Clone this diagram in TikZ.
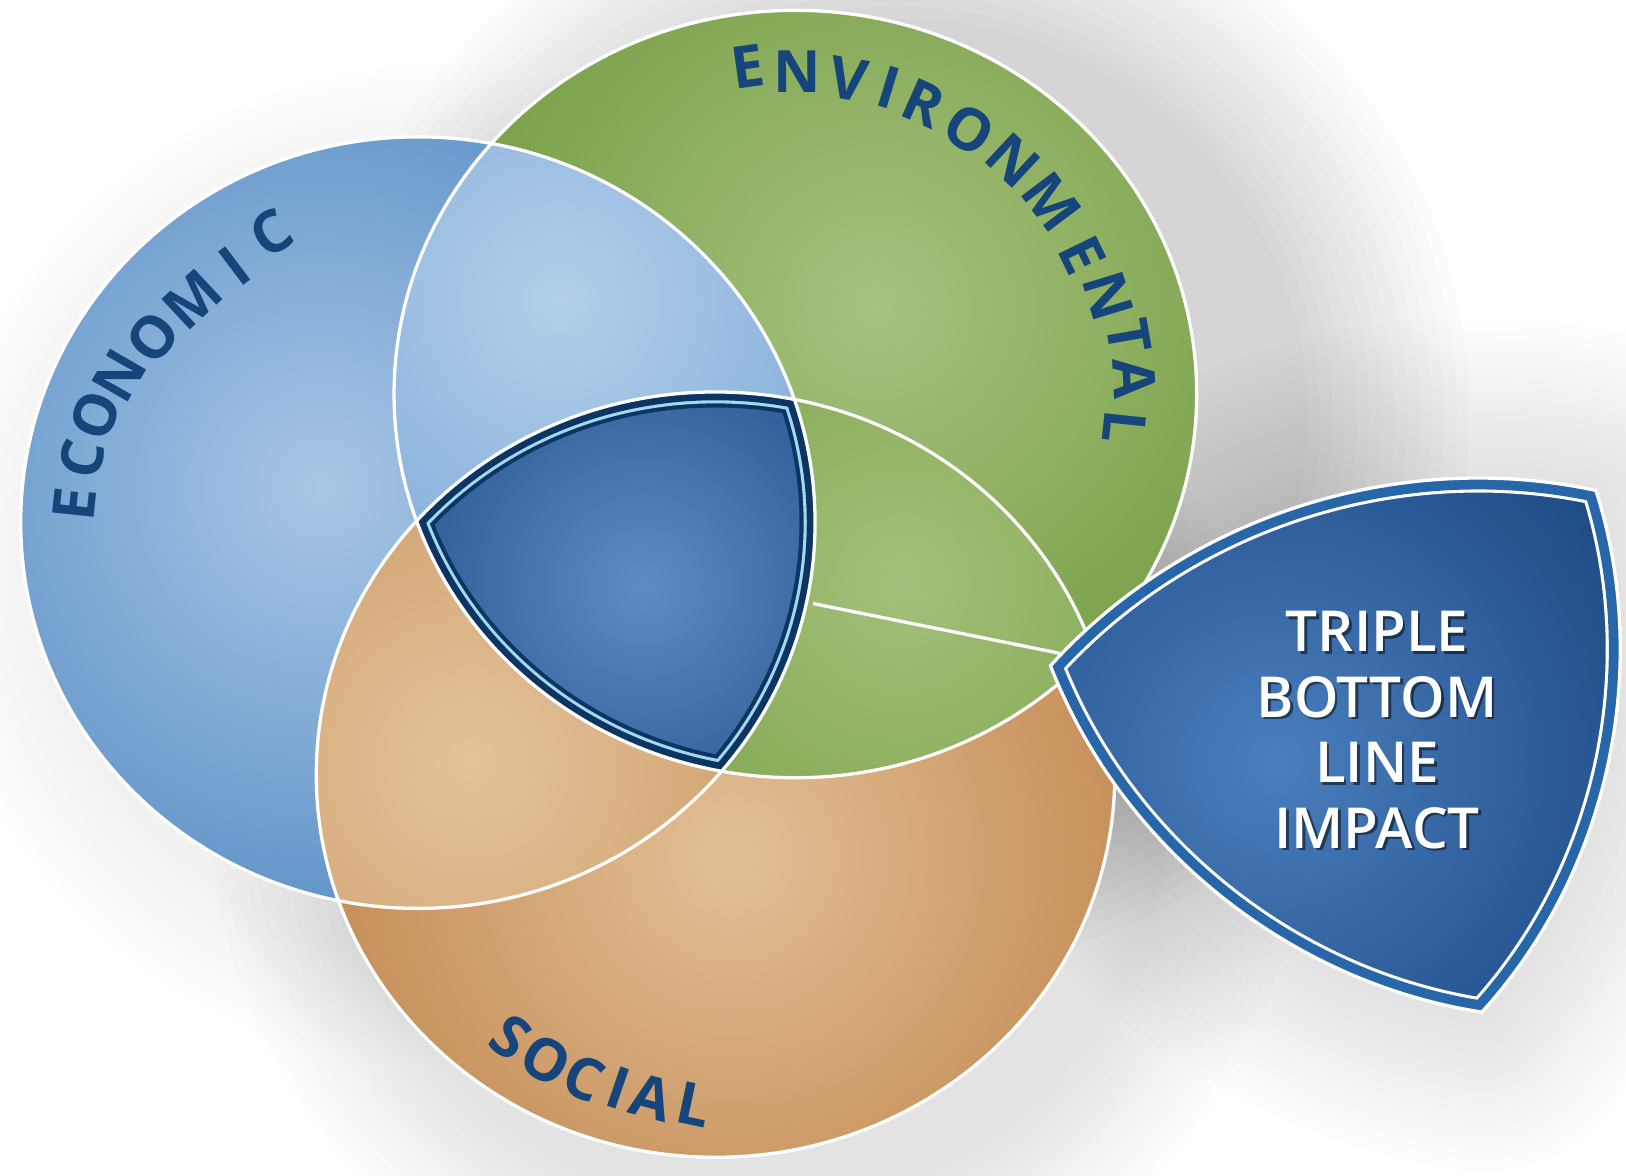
\documentclass[tikz,border=0pt]{standalone}
\usepackage{fontspec}
\newfontfamily\labfont{Open Sans}
\IfFontExistsTF{Open Sans Semibold}
  {\newfontfamily\tblfont{Open Sans Semibold}}
  {\newfontfamily\tblfont{Open Sans}}
\definecolor{ecoBase}{HTML}{538AC3}
\definecolor{ecoLight}{HTML}{A8C6E5}
\definecolor{abBase}{HTML}{72A1D3}
\definecolor{abLight}{HTML}{B3CFEA}
\definecolor{envBase}{HTML}{6A9537}
\definecolor{envLight}{HTML}{A6C27E}
\definecolor{bcBase}{HTML}{76A044}
\definecolor{bcLight}{HTML}{A4C07A}
\definecolor{socBase}{HTML}{BB7C42}
\definecolor{socLight}{HTML}{E2C096}
\definecolor{caBase}{HTML}{C99660}
\definecolor{caLight}{HTML}{E4C39B}
\definecolor{ctrBase}{HTML}{1A4984}
\definecolor{ctrLight}{HTML}{5E8DC5}
\definecolor{ctrNavy}{HTML}{0D3563}
\definecolor{ctrCyan}{HTML}{A6D6EE}
\definecolor{tblBase}{HTML}{18457F}
\definecolor{tblLight}{HTML}{4A7EBD}
\definecolor{tblBand}{HTML}{2767A9}
\definecolor{labCol}{HTML}{16457C}
\tikzset{
  lab/.style={font=\labfont\bfseries\fontsize{16}{16}\selectfont, text=labCol, inner sep=0pt},
  tbltext/.style={font=\tblfont\fontsize{15.5}{18}\selectfont, align=center, inner sep=0pt},
  rim/.style={white, line width=0.9pt},
  edgearc/.style={bend left=30, looseness=0.9}
}
\def\EA{(403,-504) ellipse [x radius=383, y radius=372]}
\def\EB{(767,-380) ellipse [x radius=387, y radius=370]}
\def\EC{(690,-747) ellipse [x radius=385, y radius=369]}
\begin{document}
\begin{tikzpicture}[x=0.01cm,y=0.01cm]
\useasboundingbox (0,0) rectangle (1568,-1134);
\fill[white] (0,0) rectangle (1568,-1134);
\coordinate (t1) at (1013,-642);
\coordinate (t2) at (1539,-473);
\coordinate (t3) at (1429,-976);
\def\TBL{(t1) to[edgearc] (t2) to[edgearc] (t3) to[edgearc] cycle}
% soft shadow, mostly to the right
\foreach \k in {1,...,14}{
  \pgfmathsetmacro\da{387+12*\k}\pgfmathsetmacro\db{370+12*\k}
  \fill[black,opacity=0.011] (862,-400) ellipse [x radius=\da, y radius=\db];
  \pgfmathsetmacro\da{385+10*\k}\pgfmathsetmacro\db{369+10*\k}
  \fill[black,opacity=0.006] (730,-787) ellipse [x radius=\da, y radius=\db];
  \pgfmathsetmacro\da{383+8*\k}\pgfmathsetmacro\db{372+8*\k}
  \fill[black,opacity=0.004] (430,-545) ellipse [x radius=\da, y radius=\db];
  \pgfmathsetmacro\lw{0.22*\k}
  \begin{scope}[xshift=45,yshift=-20]
  \draw[black,opacity=0.009,line width=\lw cm,line join=round] \TBL;
  \end{scope}
}
% base circles
\begin{scope}\clip \EA;
  \fill[ecoBase] \EA;
  \shade[inner color=ecoLight, outer color=ecoBase] (310,-470) circle (500);
\end{scope}
\begin{scope}\clip \EB;
  \fill[envBase] \EB;
  \shade[inner color=envLight, outer color=envBase] (845,-295) circle (560);
\end{scope}
\begin{scope}\clip \EC;
  \fill[socBase] \EC;
  \shade[inner color=socLight, outer color=socBase] (705,-825) circle (540);
\end{scope}
% lenses
\begin{scope}\clip \EA; \clip \EB;
  \fill[abBase] \EA;
  \shade[inner color=abLight, outer color=abBase] (540,-290) circle (420);
\end{scope}
\begin{scope}\clip \EB; \clip \EC;
  \fill[bcBase] \EB;
  \shade[inner color=bcLight, outer color=bcBase] (870,-560) circle (400);
\end{scope}
\begin{scope}\clip \EC; \clip \EA;
  \fill[caBase] \EC;
  \shade[inner color=caLight, outer color=caBase] (455,-735) circle (400);
\end{scope}
% centre
\begin{scope}\clip \EA; \clip \EB; \clip \EC;
  \fill[ctrBase] (0,0) rectangle (1568,-1134);
  \shade[inner color=ctrLight, outer color=ctrBase] (620,-565) circle (320);
  \draw[ctrNavy, line width=0.30cm] \EA \EB \EC;
  \draw[ctrCyan, line width=0.22cm] \EA \EB \EC;
  \draw[ctrNavy, line width=0.16cm] \EA \EB \EC;
\end{scope}
\draw[rim] \EA \EB \EC;
% connector
\coordinate (cR) at (784,-582);
\coordinate (tL) at (1022,-630);
\draw[rim] (cR) -- (tL);
% triple bottom line shape
\begin{scope}\clip \TBL;
  \fill[tblBase] (900,-400) rectangle (1568,-1134);
  \shade[inner color=tblLight, outer color=tblBase] (1230,-734) circle (440);
  \draw[white, line width=0.28cm] \TBL;
  \draw[tblBand, line width=0.22cm] \TBL;
\end{scope}
\draw[rim, line join=miter] \TBL;
\node[tbltext, text=black, opacity=0.5] (tblsh) at (1330.5,-706.5) {TRIPLE\\BOTTOM\\LINE\\IMPACT};
\node[tbltext, text=white] (tbl) at (1328,-704) {TRIPLE\\BOTTOM\\LINE\\IMPACT};
% labels
\foreach \ch/\x/\y/\r [count=\i] in {E/72/486/84, C/79/443/78, O/92/401/69, N/115/362/60, O/147/325/51, M/186/289/43, I/226/257/37, C/262/225/32}
  \node[lab, rotate=\r] (eco\i) at (\x,-\y) {\ch};
\foreach \ch/\x/\y/\r [count=\i] in {E/721/64/8, N/769/69/0, V/818/76/-9.5, I/857/84/-17, R/891/100/-24, O/935/125/-33, N/977/155/-43, M/1014/195/-53, E/1044/246/-64, N/1069/286/-73, T/1089/325/-80, A/1094/365/-87, L/1084/412/-96}
  \node[lab, rotate=\r] (env\i) at (\x,-\y) {\ch};
\foreach \ch/\x/\y/\r [count=\i] in {S/493/1000/-36, O/527/1022/-30, C/563/1040/-24, I/596/1049/-19, A/628/1058/-15, L/669/1065/-12}
  \node[lab, rotate=\r] (soc\i) at (\x,-\y) {\ch};
\end{tikzpicture}
\end{document}
